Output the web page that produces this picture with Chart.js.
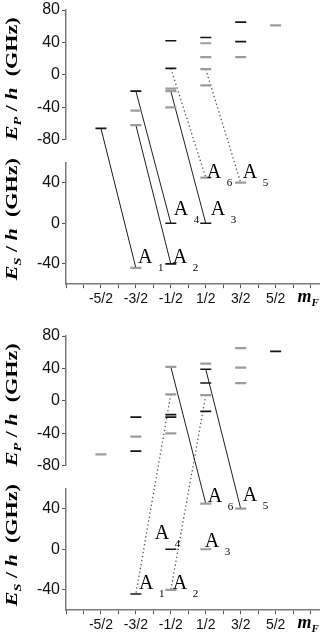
<!DOCTYPE html>
<html>
<head>
<meta charset="utf-8">
<script src="https://cdn.jsdelivr.net/npm/chart.js@4.4.1/dist/chart.umd.min.js"></script>
<style>
    html, body { margin: 0; padding: 0; background: #fff; }
    .painel { position: absolute; left: 0; width: 327px; height: 312px; }
    #painel-superior { top: 0; }
    #painel-inferior { top: 326px; }
</style>
</head>
<body>
<div class="painel" id="painel-superior"><canvas id="grafico-superior" width="327" height="312"></canvas></div>
<div class="painel" id="painel-inferior"><canvas id="grafico-inferior" width="327" height="312"></canvas></div>
<script>
const valoresMF = [-2.5, -1.5, -0.5, 0.5, 1.5, 2.5];
const rotulosMF = ["-5/2", "-3/2", "-1/2", "1/2", "3/2", "5/2"];
const marcasX = [-3.5, -3, -2.5, -2, -1.5, -1, -0.5, 0, 0.5, 1, 1.5, 2, 2.5, 3, 3.5];
const marcasP = [-80, -40, 0, 40, 80];
const marcasS = [-40, 0, 40];

// niveis P (GHz) por mF
const nivelPMF = [-2.5, -1.5, -1.5, -1.5, -0.5, -0.5, -0.5, -0.5, -0.5, 0.5, 0.5, 0.5, 0.5, 0.5, 1.5, 1.5, 1.5, 2.5];
const nivelPE = [-66, -20, -44, -62, 42, 8, -17, -20, -40, 46, 39, 22, 7, -13, 65, 41, 22, 61];

// niveis S, na ordem A1..A6
const nomesA = ["1", "2", "3", "4", "5", "6"];
const nivelSMF = [-1.5, -0.5, 0.5, -0.5, 1.5, 0.5];
const nivelSE = [-44, -40, 0, 0, 40, 45];

// transicoes P -> S
const superiorDeMF = [-2.5, -1.5, -0.5, -1.5, 0.5, -0.5];
const superiorDeE = [-66, -62, -20, -20, 7, 8];
const superiorParaA = [1, 2, 3, 4, 5, 6];
const inferiorDeMF = [-0.5, 0.5, 0.5, -0.5];
const inferiorDeE = [8, 7, 39, 42];
const inferiorParaA = [1, 2, 5, 6];

// estilos (k = preto, g = cinza)
const superiorTracejado = [false, false, false, false, true, true];
const inferiorTracejado = [true, true, false, false];
const superiorTomP = "kkggkkgggkggggkkgg";
const inferiorTomP = "gkgkggkkggkkgkgggk";
const superiorTomS = "gkkkgg";
const inferiorTomS = "kggkgg";
const superiorAjusteA = [[2, -5], [2, -1], [5, -8], [3, -8], [2, -5], [1, 0]];
const inferiorAjusteA = [[3, -5], [2, -1], [-1, -2], [-16, -10], [2, -8], [2, -2]];

const SERIFA = '"Liberation Serif", "Times New Roman", serif';
const SANS = '"Liberation Sans", Arial, sans-serif';

window.onload = aoCarregarPagina;

function aoCarregarPagina() {
    criarGrafico(document.querySelector("#grafico-superior"), {
        deMF: superiorDeMF, deE: superiorDeE, paraA: superiorParaA,
        tracejado: superiorTracejado, tomP: superiorTomP, tomS: superiorTomS, ajusteA: superiorAjusteA
    });
    criarGrafico(document.querySelector("#grafico-inferior"), {
        deMF: inferiorDeMF, deE: inferiorDeE, paraA: inferiorParaA,
        tracejado: inferiorTracejado, tomP: inferiorTomP, tomS: inferiorTomS, ajusteA: inferiorAjusteA
    });
}

function estiloNivel(tom) {
    return {
        pointStyle: "line",
        pointRadius: 5.5,
        pointHoverRadius: 5.5,
        borderColor: tom === "k" ? "#161616" : "#9c9c9c",
        pointBorderWidth: tom === "k" ? 1.6 : 2.2,
        showLine: false
    };
}

function criarConjuntos(painel) {
    const conjuntos = [];
    for (const tom of ["g", "k"]) {
        conjuntos.push({
            yAxisID: "yP",
            data: nivelPMF.map((m, i) => ({ x: m, y: nivelPE[i] })).filter((p, i) => painel.tomP[i] === tom),
            ...estiloNivel(tom)
        });
        conjuntos.push({
            yAxisID: "yS",
            data: nivelSMF.map((m, i) => ({ x: m, y: nivelSE[i] })).filter((p, i) => painel.tomS[i] === tom),
            ...estiloNivel(tom)
        });
    }
    return conjuntos;
}

function escreverPartes(ctx, partes, x, y, angulo, esticar, centrado) {
    ctx.save();
    ctx.translate(x, y);
    ctx.rotate(angulo);
    ctx.scale(esticar, 1);
    ctx.fillStyle = "#000";
    ctx.textBaseline = "alphabetic";
    ctx.textAlign = "left";
    let total = 0;
    for (const p of partes) {
        ctx.font = p.f;
        total += ctx.measureText(p.t).width;
    }
    let atual = centrado ? -total / 2 : 0;
    for (const p of partes) {
        ctx.font = p.f;
        ctx.fillText(p.t, atual, p.dy || 0);
        atual += ctx.measureText(p.t).width;
    }
    ctx.restore();
}

function tituloEixo(sub) {
    return [
        { t: "E", f: `italic bold 17px ${SERIFA}` },
        { t: sub, f: `italic bold 11px ${SERIFA}`, dy: 4 },
        { t: " / ", f: `bold 17px ${SERIFA}` },
        { t: "h", f: `italic bold 17px ${SERIFA}` },
        { t: "  (GHz)", f: `bold 17px ${SERIFA}` }
    ];
}

function pluginDiagrama(painel) {
    return {
        id: "diagrama",
        beforeDatasetsDraw(chart) {
            const { ctx, scales: { x, yP, yS } } = chart;
            ctx.save();
            painel.deMF.forEach((m, i) => {
                const a = painel.paraA[i] - 1;
                ctx.beginPath();
                if (painel.tracejado[i]) {
                    ctx.setLineDash([1.3, 2.7]);
                    ctx.strokeStyle = "#555";
                    ctx.lineWidth = 1.3;
                } else {
                    ctx.setLineDash([]);
                    ctx.strokeStyle = "#1e1e1e";
                    ctx.lineWidth = 1;
                }
                ctx.moveTo(x.getPixelForValue(m), yP.getPixelForValue(painel.deE[i]));
                ctx.lineTo(x.getPixelForValue(nivelSMF[a]), yS.getPixelForValue(nivelSE[a]));
                ctx.stroke();
            });
            ctx.restore();
        },
        afterDatasetsDraw(chart) {
            const { ctx, scales: { x, yS } } = chart;
            ctx.save();
            ctx.fillStyle = "#000";
            ctx.textBaseline = "alphabetic";
            nomesA.forEach((nome, i) => {
                const px = x.getPixelForValue(nivelSMF[i]) + painel.ajusteA[i][0];
                const py = yS.getPixelForValue(nivelSE[i]) + painel.ajusteA[i][1];
                ctx.font = `20px ${SERIFA}`;
                ctx.fillText("A", px, py);
                ctx.font = `11px ${SERIFA}`;
                ctx.fillText(nome, px + 20, py + 8);
            });
            ctx.restore();
        },
        afterDraw(chart) {
            const { ctx, scales: { x, yP, yS } } = chart;
            escreverPartes(ctx, tituloEixo("P"), 17, (yP.top + yP.bottom) / 2 + 4, -Math.PI / 2, 1.3, true);
            escreverPartes(ctx, tituloEixo("S"), 17, (yS.top + yS.bottom) / 2 - 4, -Math.PI / 2, 1.3, true);
            escreverPartes(ctx, [
                { t: "m", f: `italic bold 18px ${SERIFA}` },
                { t: "F", f: `italic bold 11px ${SERIFA}`, dy: 4 }
            ], x.getPixelForValue(3.5) - 13, x.top + 18, 0, 1, false);
        }
    };
}

function eixoY(min, max, marcas, peso, ordem) {
    return {
        type: "linear",
        position: "left",
        stack: "painel",
        stackWeight: peso,
        weight: ordem,
        min: min,
        max: max,
        afterBuildTicks: (eixo) => { eixo.ticks = marcas.map(v => ({ value: v })); },
        afterFit: (eixo) => { eixo.width = 40; },
        ticks: { color: "#111", padding: 2, autoSkip: false, font: { family: SANS, size: 16, lineHeight: 1 } },
        grid: { drawOnChartArea: false, tickLength: 4, color: "#555" },
        border: { color: "#7a7a7a", width: 1.5 }
    };
}

function criarGrafico(ctx, painel) {
    return new Chart(ctx, {
        type: "scatter",
        data: { datasets: criarConjuntos(painel) },
        plugins: [pluginDiagrama(painel)],
        options: {
            responsive: false,
            animation: false,
            events: [],
            layout: { padding: { left: 26, right: 4, top: 8, bottom: 1 } },
            plugins: { legend: { display: false }, tooltip: { enabled: false } },
            scales: {
                x: {
                    type: "linear",
                    min: -3.5,
                    max: 3.75,
                    afterBuildTicks: (eixo) => { eixo.ticks = marcasX.map(v => ({ value: v })); },
                    ticks: {
                        color: "#111",
                        padding: 3,
                        maxRotation: 0,
                        autoSkip: false,
                        font: { family: SANS, size: 14 },
                        callback: (v) => {
                            const i = valoresMF.indexOf(v);
                            return i < 0 ? "" : rotulosMF[i];
                        }
                    },
                    grid: { drawOnChartArea: false, tickLength: 4, color: "#555" },
                    border: { color: "#7a7a7a", width: 1.5 }
                },
                yS: eixoY(-60, 60, marcasS, 124, 1),
                yGap: { type: "linear", position: "left", stack: "painel", stackWeight: 23, weight: 2, display: false },
                yP: eixoY(-80, 80, marcasP, 132, 3)
            }
        }
    });
}
</script>
</body>
</html>
